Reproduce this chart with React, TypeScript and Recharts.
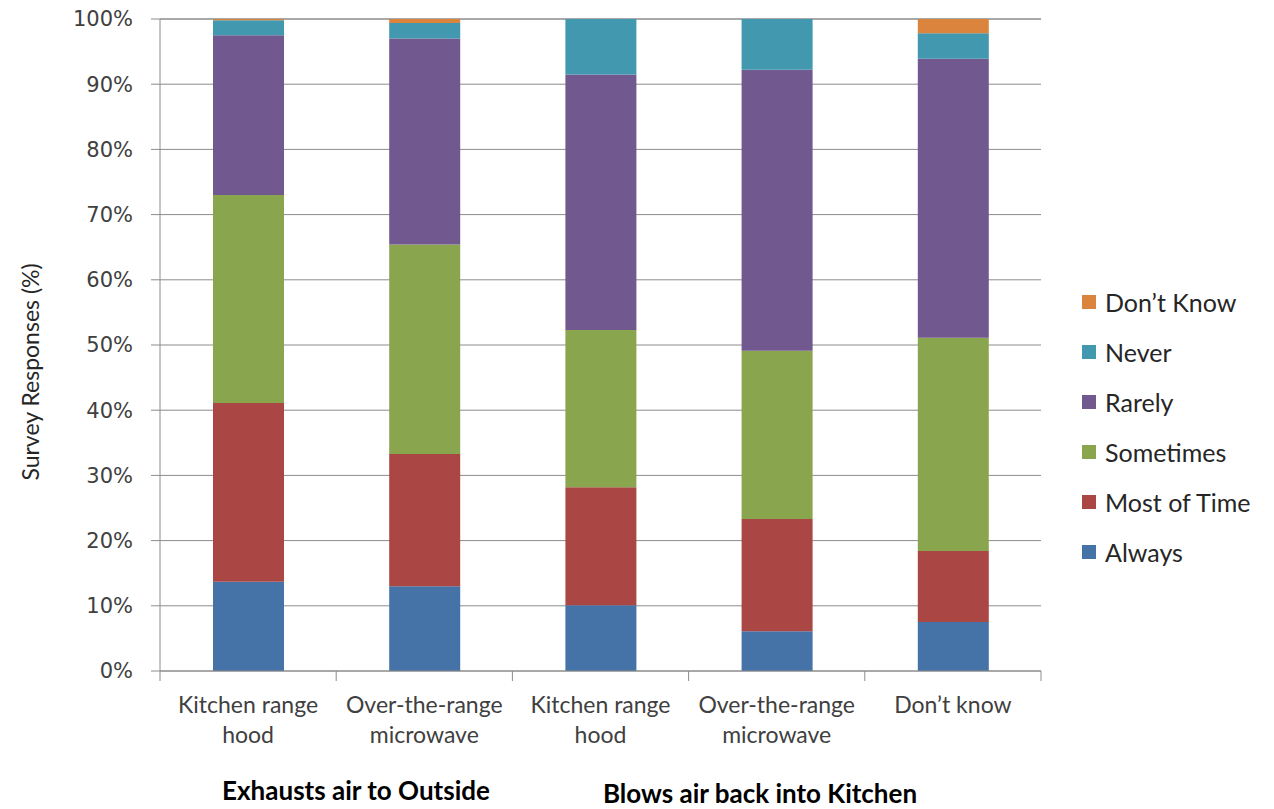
import React from 'react'
import { BarChart, Bar, XAxis, YAxis, CartesianGrid } from 'recharts'

const categories = [
  ['Kitchen range', 'hood'],
  ['Over-the-range', 'microwave'],
  ['Kitchen range', 'hood'],
  ['Over-the-range', 'microwave'],
  ["Don\u2019t know"],
]
const always = [13.7, 13.0, 10.1, 6.1, 7.5]
const mostOfTime = [27.4, 20.3, 18.1, 17.2, 10.9]
const sometimes = [31.9, 32.1, 24.1, 25.8, 32.7]
const rarely = [24.5, 31.6, 39.2, 43.1, 42.8]
const never = [2.3, 2.4, 8.5, 7.8, 3.9]
const dontKnow = [0.2, 0.6, 0, 0, 2.2]
const yTicks = [0, 10, 20, 30, 40, 50, 60, 70, 80, 90, 100]
const groupLabels = ['Exhausts air to Outside', 'Blows air back into Kitchen']

const SERIES = [
  { key: 'always', name: 'Always', color: '#4572A7', values: always },
  { key: 'most', name: 'Most of Time', color: '#AA4643', values: mostOfTime },
  { key: 'sometimes', name: 'Sometimes', color: '#89A54E', values: sometimes },
  { key: 'rarely', name: 'Rarely', color: '#71588F', values: rarely },
  { key: 'never', name: 'Never', color: '#4198AF', values: never },
  { key: 'dk', name: 'Don\u2019t Know', color: '#DB843D', values: dontKnow },
]

const data = categories.map((c, i) => {
  const row: Record<string, any> = { idx: i }
  SERIES.forEach((s) => { row[s.key] = s.values[i] })
  return row
})

const W = 1274
const H = 809
const PLOT_LEFT = 160
const PLOT_RIGHT = 1041
const BAND = (PLOT_RIGHT - PLOT_LEFT) / categories.length
const FONT = 'Lato, "Open Sans", sans-serif'
const AXIS = '#8c8c8c'

function CategoryTick(props: any) {
  const { x, y, payload, index } = props
  const lines = categories[payload.value] ?? []
  return (
    <g>
      <line x1={x - BAND / 2} y1={y - 8} x2={x - BAND / 2} y2={y + 2} stroke={AXIS} />
      {index === categories.length - 1 && (
        <line x1={x + BAND / 2} y1={y - 8} x2={x + BAND / 2} y2={y + 2} stroke={AXIS} />
      )}
      <text x={x} y={y + 34} textAnchor="middle" fill="#404040" fontSize={23} fontFamily={FONT}>
        {lines.map((l, i) => (
          <tspan key={i} x={x} dy={i === 0 ? 0 : 30}>{l}</tspan>
        ))}
      </text>
    </g>
  )
}

function LegendList() {
  return (
    <div style={{ fontFamily: FONT, fontSize: 25, color: '#262626' }}>
      {[...SERIES].reverse().map((s) => (
        <div key={s.key} style={{ display: 'flex', alignItems: 'center', height: 50 }}>
          <span style={{ width: 14, height: 14, background: s.color, marginRight: 9, display: 'inline-block' }} />
          <span>{s.name}</span>
        </div>
      ))}
    </div>
  )
}

const groupStyle: React.CSSProperties = {
  position: 'absolute', transform: 'translate(-50%, -50%)', lineHeight: 1,
  whiteSpace: 'nowrap', fontFamily: FONT, fontSize: 26, fontWeight: 'bold', color: '#000',
}

export default function App() {
  return (
    <div style={{ position: 'absolute', left: 0, top: 0, width: W, height: H, background: '#fff' }}>
      <BarChart
        width={W}
        height={H}
        data={data}
        barSize={71}
        margin={{ top: 19, right: W - PLOT_RIGHT, left: 100, bottom: 58 }}
      >
        <CartesianGrid vertical={false} stroke={AXIS} strokeWidth={1} />
        <XAxis
          dataKey="idx"
          height={80}
          tickLine={false}
          axisLine={{ stroke: AXIS }}
          tick={<CategoryTick />}
          interval={0}
        />
        <YAxis
          width={60}
          domain={[0, 100]}
          ticks={yTicks}
          tickFormatter={(v: number) => `${v}%`}
          axisLine={{ stroke: AXIS }}
          tickLine={{ stroke: AXIS }}
          tickSize={9}
          tickMargin={18}
          tick={{ fill: '#404040', fontSize: 21, fontFamily: '"DejaVu Sans", sans-serif' }}
          interval={0}
        />
        {SERIES.map((s) => (
          <Bar key={s.key} dataKey={s.key} name={s.name} stackId="a" fill={s.color} isAnimationActive={false} />
        ))}
      </BarChart>
      <div style={{ position: 'absolute', left: 1082, top: 277 }}>
        <LegendList />
      </div>
      <div
        style={{
          position: 'absolute', left: 30, top: 372, transform: 'translate(-50%, -50%) rotate(-90deg)',
          whiteSpace: 'nowrap', fontFamily: FONT, fontSize: 23, color: '#262626',
        }}
      >
        Survey Responses (%)
      </div>
      <div style={{ ...groupStyle, left: 356, top: 790 }}>{groupLabels[0]}</div>
      <div style={{ ...groupStyle, left: 760, top: 793 }}>{groupLabels[1]}</div>
    </div>
  )
}
